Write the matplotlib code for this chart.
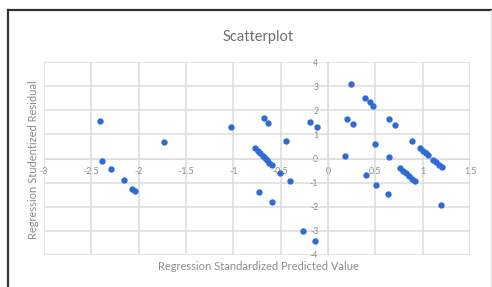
import matplotlib
matplotlib.use("Agg")
import matplotlib.pyplot as plt
from matplotlib.lines import Line2D

# predicted (standardized) vs studentized residual
x_pred = [-2.41, -1.73, -2.39, -2.29, -2.16, -2.07, -2.04,
          -1.02, -0.68, -0.63, -0.44, -0.19, -0.12,
          -0.77, -0.74, -0.72, -0.69, -0.67, -0.64, -0.62, -0.59,
          -0.51, -0.40, -0.73, -0.59, -0.26, -0.14,
          0.24, 0.39, 0.44, 0.48, 0.20, 0.26, 0.64, 0.71, 0.50, 0.89,
          0.18, 0.64,
          0.97, 1.00, 1.03, 1.06,
          1.11, 1.14, 1.17, 1.20,
          0.76, 0.79, 0.82, 0.86, 0.89, 0.92,
          0.40, 0.51, 0.63, 1.19]
y_resid = [1.57, 0.70, -0.10, -0.45, -0.89, -1.27, -1.36,
           1.29, 1.69, 1.46, 0.74, 1.50, 1.29,
           0.42, 0.32, 0.22, 0.12, 0.03, -0.07, -0.17, -0.27,
           -0.61, -0.93, -1.38, -1.82, -3.01, -3.42,
           3.08, 2.52, 2.36, 2.19, 1.63, 1.43, 1.64, 1.39, 0.59, 0.73,
           0.12, 0.05,
           0.44, 0.33, 0.24, 0.15,
           -0.06, -0.16, -0.25, -0.35,
           -0.41, -0.51, -0.62, -0.72, -0.83, -0.93,
           -0.68, -1.10, -1.49, -1.93]

x_ticks = [-3, -2.5, -2, -1.5, -1, -0.5, 0, 0.5, 1, 1.5]
y_ticks = [-4, -3, -2, -1, 0, 1, 2, 3, 4]

plt.rcParams["font.family"] = ["Lato", "DejaVu Sans"]

fig = plt.figure(figsize=(4.92, 2.87), dpi=100)
ax = fig.add_axes([44 / 492, 32 / 287, 426 / 492, 193 / 287])

grid_c = "#dcdcdc"
text_c = "#8c8c8c"

ax.scatter(x_pred, y_resid, s=21, color="#2e6bd9", zorder=3, linewidths=0)

ax.set_xlim(-3, 1.5)
ax.set_ylim(-4, 4)
ax.set_xticks(x_ticks)
ax.set_yticks(y_ticks)
ax.set_xticklabels([f"{v:g}" for v in x_ticks])
ax.set_yticklabels([f"{v:g}" for v in y_ticks])
ax.grid(True, color=grid_c, linewidth=1.1)
ax.set_axisbelow(True)

for side in ("top", "right"):
    ax.spines[side].set_visible(False)
ax.spines["bottom"].set_position(("data", 0))
ax.spines["left"].set_position(("data", 0))
ax.spines["bottom"].set_color(grid_c)
ax.spines["left"].set_color(grid_c)
ax.tick_params(length=0, labelsize=6.3, colors=text_c)
ax.tick_params(axis="x", pad=6)
ax.tick_params(axis="y", pad=7)

fig.text(258 / 492, 1 - 37 / 287, "Scatterplot", ha="center", va="center",
         fontsize=10.5, color="#6e6e6e")
fig.text(258 / 492, 1 - 267 / 287, "Regression Standardized Predicted Value",
         ha="center", va="center", fontsize=8, color=text_c)
fig.text(33.5 / 492, 1 - 160 / 287, "Regression Studentized Residual",
         ha="center", va="center", rotation=90, fontsize=8, color=text_c)

# screenshot frame
fig.add_artist(Line2D([8 / 492, 8 / 492], [0, 1 - 10 / 287], color="#333333", lw=1.6))
fig.add_artist(Line2D([8 / 492, 1], [1 - 10 / 287, 1 - 10 / 287], color="#333333", lw=1.6))
fig.add_artist(Line2D([490.5 / 492, 490.5 / 492], [0, 1 - 10 / 287], color="#e0e0e0", lw=0.8))

fig.savefig("out.png", dpi=100)
